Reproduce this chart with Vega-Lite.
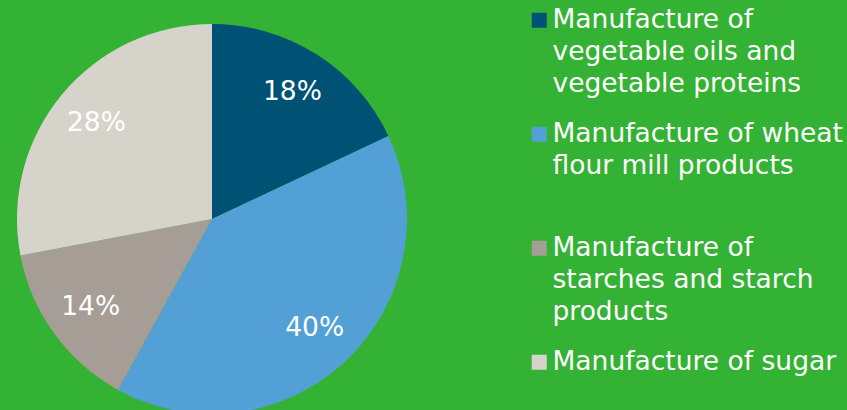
{
  "$schema": "https://vega.github.io/schema/vega-lite/v6.json",
  "width": 424,
  "height": 438,
  "padding": {"left": 0, "top": 0, "right": 20, "bottom": 0},
  "background": "#34b234",
  "view": {"stroke": null},
  "data": {
    "values": [
      {"category": "Manufacture of vegetable oils and vegetable proteins", "value": 18, "label": "18%", "order": 1},
      {"category": "Manufacture of wheat flour mill products", "value": 40, "label": "40%", "order": 2},
      {"category": "Manufacture of starches and starch products", "value": 14, "label": "14%", "order": 3},
      {"category": "Manufacture of sugar", "value": 28, "label": "28%", "order": 4}
    ]
  },
  "encoding": {
    "theta": {"field": "value", "type": "quantitative", "stack": true},
    "order": {"field": "order", "type": "quantitative", "sort": "ascending"},
    "color": {
      "field": "category",
      "type": "nominal",
      "scale": {
        "domain": [
          "Manufacture of vegetable oils and vegetable proteins",
          "Manufacture of wheat flour mill products",
          "Manufacture of starches and starch products",
          "Manufacture of sugar"
        ],
        "range": ["#005274", "#52a0d6", "#a59d96", "#d6d3cb"]
      },
      "legend": {
        "orient": "none",
        "legendX": 526,
        "legendY": 7,
        "title": null,
        "padding": 0,
        "symbolType": "square",
        "symbolSize": 225,
        "symbolStrokeWidth": 0,
        "symbolOpacity": 1,
        "labelFont": "DejaVu Sans",
        "labelFontSize": 26.5,
        "labelColor": "#ffffff",
        "labelLimit": 400,
        "labelOffset": 0,
        "rowPadding": 23,
        "labelExpr": "datum.label == 'Manufacture of vegetable oils and vegetable proteins' ? ['Manufacture of', 'vegetable oils and', 'vegetable proteins'] : datum.label == 'Manufacture of wheat flour mill products' ? ['Manufacture of wheat', 'flour mill products', ''] : datum.label == 'Manufacture of starches and starch products' ? ['Manufacture of', 'starches and starch', 'products'] : ['Manufacture of sugar', '', '']",
        "encode": {
          "labels": {"update": {"lineHeight": {"value": 32}}}
        }
      }
    }
  },
  "layer": [
    {"mark": {"type": "arc", "outerRadius": 195}},
    {
      "mark": {"type": "text", "radius": 150, "font": "DejaVu Sans", "fontSize": 26.5, "color": "#ffffff"},
      "encoding": {"text": {"field": "label", "type": "nominal"}, "color": {"value": "#ffffff"}}
    }
  ]
}
